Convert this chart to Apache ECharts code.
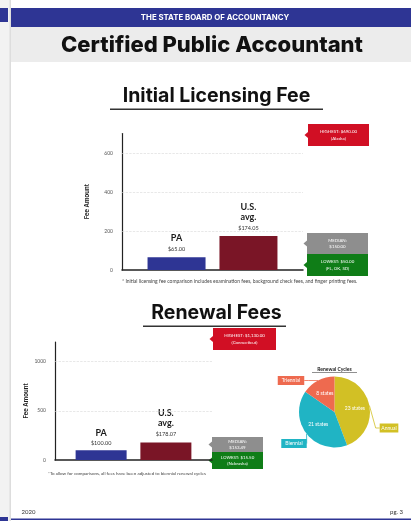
<!DOCTYPE html>
<html lang="en">
<head>
  <meta charset="UTF-8">
  <title>CPA fees</title>
  <script src="https://cdn.jsdelivr.net/npm/echarts@6/dist/echarts.min.js"></script>
  <style>
    html, body { margin: 0; padding: 0; background: #fff; }
    #main { width: 411px; height: 521px; }
  </style>
</head>
<body>
  <div id="main"></div>
  <script type="text/javascript">
    // chart values
    var barNames = ['PA', 'U.S. avg.'];
    var licFees = [65.00, 174.05];
    var renFees = [100.00, 178.07];
    var licTicks = [0, 200, 400, 600];
    var renTicks = [0, 500, 1000];
    var licNotes = [['HIGHEST: $690.00', '(Alaska)'], ['MEDIAN:', '$150.00'], ['LOWEST: $50.00', '(FL, OK, SD)']];
    var renNotes = [['HIGHEST: $1,130.00', '(Connecticut)'], ['MEDIAN:', '$153.49'], ['LOWEST: $15.50', '(Nebraska)']];
    var cycleNames = ['Annual', 'Biennial', 'Triennial'];
    var cycleStates = [23, 21, 8];

    var BLUE = '#2e3594', MAROON = '#7a1526';
    var RED = '#d10f24', GREY = '#8e8e8e', GREEN = '#0f7d17';
    var cycleColors = ['#d2c025', '#20b4c4', '#ee6a4f'];

    var myChart = echarts.init(document.getElementById('main'), null, { width: 411, height: 521 });

    function txt(x, y, text, size, opt) {
      opt = opt || {};
      return {
        type: 'text', x: x, y: y, silent: true,
        style: {
          text: text, fontSize: size, fontFamily: opt.family || 'Lato',
          fontWeight: opt.weight || 'normal', fill: opt.color || '#111',
          textAlign: opt.align || 'center', textVerticalAlign: 'middle',
          lineHeight: opt.lh || size * 1.25
        }
      };
    }

    // red/grey/green note boxes with a little pointer on the left
    function callout(x, y, w, h, color, lines) {
      return {
        type: 'group', silent: true,
        children: [
          { type: 'rect', shape: { x: x, y: y, width: w, height: h }, style: { fill: color } },
          { type: 'polygon', shape: { points: [[x, y + h / 2 - 3], [x - 3.5, y + h / 2], [x, y + h / 2 + 3]] }, style: { fill: color } },
          txt(x + w / 2, y + h / 2, lines.join('\n'), 4.4, { color: '#fff', lh: 6.2 })
        ]
      };
    }

    function barLabel(size) {
      return {
        show: true, position: 'top', distance: 2,
        formatter: function (p) {
          return '{n|' + p.seriesName.replace(' ', '\n') + '}\n{v|$' + p.value.toFixed(2) + '}';
        },
        rich: {
          n: { fontFamily: 'Lato', fontWeight: 'bold', fontSize: 9, lineHeight: 10, color: '#1a1a1a' },
          v: { fontFamily: 'Lato', fontSize: 5.5, lineHeight: size, color: '#333' }
        }
      };
    }

    function gridLines(ticks) {
      return {
        silent: true, symbol: 'none',
        label: { show: false },
        lineStyle: { color: '#d8d8d8', type: 'dashed', width: 0.6 },
        data: ticks.filter(function (v) { return v > 0; }).map(function (v) { return { yAxis: v }; })
      };
    }

    function yAx(gridIndex, max, interval, gap) {
      return {
        type: 'value', gridIndex: gridIndex, min: 0, max: max, interval: interval,
        name: 'Fee Amount', nameLocation: 'middle', nameRotate: 90, nameGap: gap,
        nameTextStyle: { fontFamily: 'Inter', fontWeight: 'bold', fontSize: 6, color: '#222' },
        axisLine: { show: true, lineStyle: { color: '#222', width: 1.2 } },
        axisTick: { show: false },
        splitLine: { show: false },
        axisLabel: { showMaxLabel: false, fontFamily: 'Lato', fontSize: 5, color: '#555', margin: 9,
          formatter: function (v) { return String(v); } }
      };
    }

    function xAx(gridIndex) {
      return {
        type: 'category', gridIndex: gridIndex, data: ['fee'],
        axisLine: { lineStyle: { color: '#222', width: 1.5 } },
        axisTick: { show: false }, axisLabel: { show: false }
      };
    }

    var pieData = cycleNames.map(function (n, i) {
      return { name: n, value: cycleStates[i], itemStyle: { color: cycleColors[i] } };
    });
    var pieTags = cycleNames.map(function (n, i) {
      return {
        name: n, value: cycleStates[i],
        itemStyle: { color: cycleColors[i], opacity: 0 },
        label: { backgroundColor: cycleColors[i], opacity: 1 },
        labelLine: { lineStyle: { color: cycleColors[i], opacity: 1 } }
      };
    });
    var tagSpots = [[389, 428], [294, 443.5], [291, 380.5]];

    var option = {
      animation: false,
      grid: [
        { left: 122, right: 108, top: 133.5, bottom: 251 },
        { left: 55, right: 199, top: 342, bottom: 61 }
      ],
      xAxis: [xAx(0), xAx(1)],
      yAxis: [yAx(0, 700, 200, 32), yAx(1, 1200, 500, 26)],
      series: [
        { type: 'bar', name: barNames[0], xAxisIndex: 0, yAxisIndex: 0, data: [licFees[0]],
          barWidth: 58, barGap: '24%', itemStyle: { color: BLUE }, label: barLabel(12),
          markLine: gridLines(licTicks) },
        { type: 'bar', name: barNames[1], xAxisIndex: 0, yAxisIndex: 0, data: [licFees[1]],
          barWidth: 58, barGap: '24%', itemStyle: { color: MAROON }, label: barLabel(12) },
        { type: 'bar', name: barNames[0], xAxisIndex: 1, yAxisIndex: 1, data: [renFees[0]],
          barWidth: 51, barGap: '27%', itemStyle: { color: BLUE }, label: barLabel(10),
          markLine: gridLines(renTicks) },
        { type: 'bar', name: barNames[1], xAxisIndex: 1, yAxisIndex: 1, data: [renFees[1]],
          barWidth: 51, barGap: '27%', itemStyle: { color: MAROON }, label: barLabel(12) },
        { type: 'pie', center: [334.5, 412], radius: 35.5, startAngle: 90, silent: true,
          data: pieData,
          label: { position: 'inside', formatter: '{c} states', fontFamily: 'Lato', fontSize: 5, color: '#fff' },
          labelLine: { show: false } },
        { type: 'pie', center: [334.5, 412], radius: 35.5, startAngle: 90, silent: true,
          data: pieTags, z: 3,
          label: { show: true, formatter: '{b}', fontFamily: 'Lato', fontSize: 5, color: '#fff',
            padding: [2, 4], overflow: 'none' },
          labelLine: { show: true, length: 4, length2: 4, lineStyle: { width: 0.8 } },
          labelLayout: function (p) {
            var s = tagSpots[p.dataIndex];
            return { x: s[0], y: s[1], align: 'center', verticalAlign: 'middle' };
          } }
      ],
      graphic: [
        // page frame
        { type: 'rect', z: -10, shape: { x: 0, y: 0, width: 9, height: 521 }, style: { fill: '#f2f2f2' } },
        { type: 'rect', shape: { x: 0, y: 8, width: 8, height: 14 }, style: { fill: BLUE } },
        { type: 'rect', shape: { x: 0, y: 517, width: 8, height: 4 }, style: { fill: BLUE } },
        { type: 'rect', shape: { x: 9.5, y: 0, width: 1.2, height: 521 }, style: { fill: '#cfcfcf' } },
        { type: 'rect', shape: { x: 11, y: 8, width: 400, height: 19 }, style: { fill: BLUE } },
        { type: 'rect', shape: { x: 11, y: 27, width: 400, height: 35 }, style: { fill: '#ececec' } },
        { type: 'rect', shape: { x: 11, y: 518.5, width: 400, height: 1.5 }, style: { fill: BLUE } },
        txt(215, 18, 'THE STATE BOARD OF ACCOUNTANCY', 7.8, { color: '#fff', weight: 'bold', family: 'Inter' }),
        txt(212, 45, 'Certified Public Accountant', 22, { weight: 800, family: 'Inter' }),
        txt(28.5, 512, '2020', 6, { color: '#333' }),
        txt(403, 512, 'pg. 3', 6, { color: '#333', align: 'right' }),

        // initial licensing section
        txt(216.5, 96, 'Initial Licensing Fee', 19.5, { weight: 'bold', family: 'Inter' }),
        { type: 'rect', shape: { x: 110, y: 108.5, width: 213, height: 1.5 }, style: { fill: '#333' } },
        callout(308, 124, 61, 22, RED, licNotes[0]),
        callout(307, 233, 61, 21, GREY, licNotes[1]),
        callout(307, 254, 61, 22, GREEN, licNotes[2]),
        txt(122, 281, '* Initial licensing fee comparison includes examination fees, background check fees, and finger printing fees.', 5, { color: '#444', align: 'left' }),

        // renewal section
        txt(216.5, 313, 'Renewal Fees', 19.5, { weight: 'bold', family: 'Inter' }),
        { type: 'rect', shape: { x: 143, y: 325.5, width: 143, height: 1.5 }, style: { fill: '#333' } },
        callout(213, 328, 63, 22, RED, renNotes[0]),
        callout(212, 437, 51, 15, GREY, renNotes[1]),
        callout(212, 452, 51, 17, GREEN, renNotes[2]),
        txt(48, 474, '*To allow for comparisons, all fees have been adjusted to biennial renewal cycles', 4.5, { color: '#444', align: 'left' }),
        txt(334.5, 369, 'Renewal Cycles', 5, { color: '#222', weight: 'bold' }),
        { type: 'rect', shape: { x: 312, y: 372, width: 45, height: 0.6 }, style: { fill: '#222' } }
      ]
    };
    myChart.setOption(option);
  </script>
</body>
</html>
